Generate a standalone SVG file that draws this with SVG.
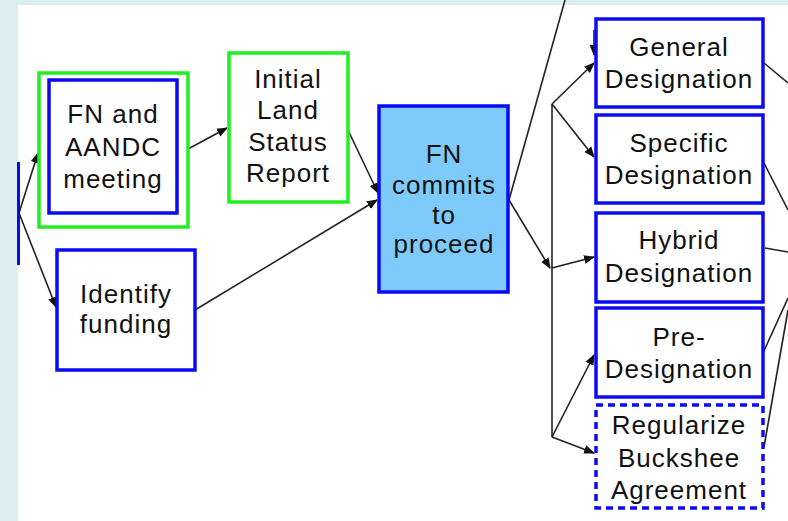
<svg xmlns="http://www.w3.org/2000/svg" width="788" height="521" viewBox="0 0 788 521">
  <style>
    .lbl { font-family: "Liberation Sans", Arial, Helvetica, sans-serif; font-size: 26px; letter-spacing: 1px; fill: #111; text-anchor: middle; }
    .blue { fill: #ffffff; stroke: #0a0af5; stroke-width: 3.5; }
    .green { fill: #ffffff; stroke: #22ee22; stroke-width: 3.5; }
    .dash { fill: #ffffff; stroke: #0a0af5; stroke-width: 3.5; stroke-dasharray: 7 5; }
    .fill { fill: #7ecbfb; stroke: #0a0af5; stroke-width: 3.5; }
    .edge { fill: none; stroke: #222; stroke-width: 1.6; }
    .arr { marker-end: url(#head); }
  </style>
  <defs>
    <marker id="head" viewBox="0 0 10 10" refX="9" refY="5" markerWidth="11" markerHeight="11" markerUnits="userSpaceOnUse" orient="auto">
      <path d="M0,1 L10,5 L0,9 Z" fill="#111"/>
    </marker>
  </defs>

  <!-- page frame -->
  <rect x="0" y="0" width="788" height="521" fill="#dceeef"/>
  <rect x="18" y="5" width="770" height="516" fill="#ffffff"/>

  <!-- partially visible box at left edge -->
  <line x1="18.5" y1="162" x2="18.5" y2="265" stroke="#0a0af5" stroke-width="3"/>

  <!-- connectors -->
  <g id="connectors">
    <line class="edge arr" x1="19" y1="213" x2="38" y2="153"/>
    <line class="edge arr" x1="19" y1="213" x2="56" y2="307"/>
    <line class="edge arr" x1="188" y1="149" x2="227" y2="128"/>
    <line class="edge arr" x1="347" y1="128" x2="378" y2="193"/>
    <line class="edge arr" x1="195" y1="310" x2="377" y2="200"/>
    <line class="edge" x1="509" y1="200" x2="565" y2="0"/>
    <line class="edge arr" x1="509" y1="200" x2="550" y2="268"/>
    <line class="edge" x1="552" y1="104" x2="552" y2="437"/>
    <line class="edge arr" x1="552" y1="104" x2="594" y2="63"/>
    <line class="edge arr" x1="552" y1="104" x2="594" y2="157"/>
    <line class="edge arr" x1="552" y1="268" x2="594" y2="257"/>
    <line class="edge arr" x1="552" y1="437" x2="594" y2="355"/>
    <line class="edge arr" x1="552" y1="437" x2="594" y2="453"/>
    <line class="edge arr" x1="594" y1="30" x2="594" y2="55"/>
    <line class="edge" x1="764" y1="63" x2="788" y2="83"/>
    <line class="edge" x1="764" y1="163" x2="788" y2="210"/>
    <line class="edge" x1="765" y1="248" x2="788" y2="252"/>
    <line class="edge" x1="763" y1="353" x2="788" y2="298"/>
    <line class="edge" x1="764" y1="447" x2="788" y2="310"/>
  </g>

  <g id="fn-aandc-meeting">
    <rect class="green" x="39" y="73" width="149" height="154"/>
    <rect class="blue" x="49" y="80" width="128" height="133"/>
    <text class="lbl" x="113" y="123">FN and</text>
    <text class="lbl" x="113" y="156">AANDC</text>
    <text class="lbl" x="113" y="188">meeting</text>
  </g>

  <g id="initial-land-status">
    <rect class="green" x="229" y="53" width="119" height="149"/>
    <text class="lbl" x="288" y="88">Initial</text>
    <text class="lbl" x="288" y="119">Land</text>
    <text class="lbl" x="288" y="151">Status</text>
    <text class="lbl" x="288" y="182">Report</text>
  </g>

  <g id="identify-funding">
    <rect class="blue" x="57" y="250" width="138" height="120"/>
    <text class="lbl" x="126" y="303">Identify</text>
    <text class="lbl" x="126" y="333">funding</text>
  </g>

  <g id="fn-commits">
    <rect class="fill" x="379" y="106" width="129" height="186"/>
    <text class="lbl" x="444" y="163">FN</text>
    <text class="lbl" x="444" y="194">commits</text>
    <text class="lbl" x="444" y="224">to</text>
    <text class="lbl" x="444" y="253">proceed</text>
  </g>

  <g id="general-designation">
    <rect class="blue" x="596" y="19" width="167" height="88"/>
    <text class="lbl" x="679" y="56">General</text>
    <text class="lbl" x="679" y="88">Designation</text>
  </g>

  <g id="specific-designation">
    <rect class="blue" x="596" y="115" width="167" height="88"/>
    <text class="lbl" x="679" y="152">Specific</text>
    <text class="lbl" x="679" y="184">Designation</text>
  </g>

  <g id="hybrid-designation">
    <rect class="blue" x="596" y="213" width="167" height="89"/>
    <text class="lbl" x="679" y="249">Hybrid</text>
    <text class="lbl" x="679" y="282">Designation</text>
  </g>

  <g id="pre-designation">
    <rect class="blue" x="596" y="308" width="167" height="89"/>
    <text class="lbl" x="679" y="346">Pre-</text>
    <text class="lbl" x="679" y="378">Designation</text>
  </g>

  <g id="regularize-buckshee">
    <rect class="dash" x="596" y="405" width="167" height="103"/>
    <text class="lbl" x="679" y="434">Regularize</text>
    <text class="lbl" x="679" y="467">Buckshee</text>
    <text class="lbl" x="679" y="499">Agreement</text>
  </g>
</svg>
